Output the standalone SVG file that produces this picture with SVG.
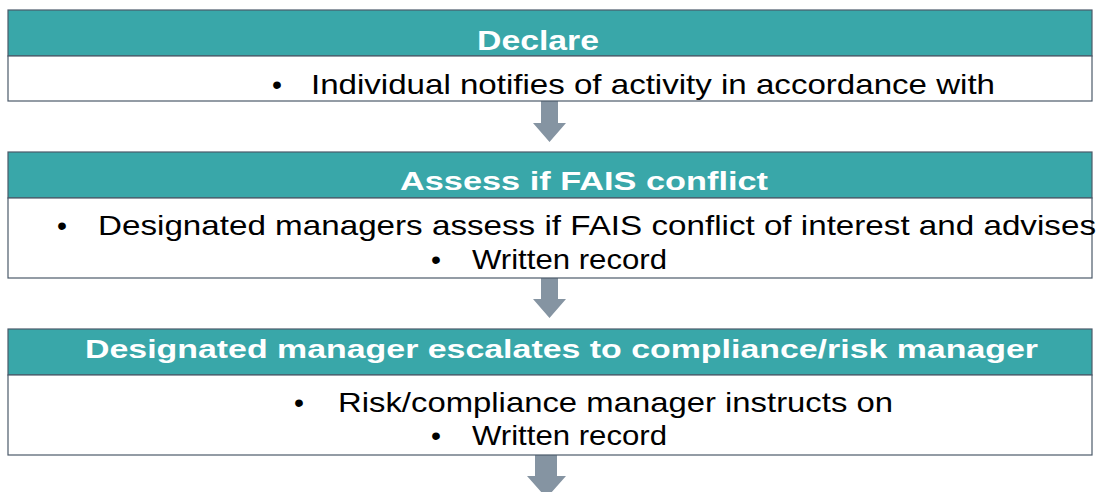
<svg xmlns="http://www.w3.org/2000/svg" width="1100" height="492" viewBox="0 0 1100 492">
<style>
.hdr{fill:#39a7a9;stroke:#4b5a6a;stroke-width:1.2}
.body{fill:#ffffff;stroke:#4b5a6a;stroke-width:1.2}
.ht{font-family:"Liberation Sans",Arial,sans-serif;font-weight:bold;fill:#ffffff}
.bt{font-family:"Liberation Sans",Arial,sans-serif;font-size:28.5px;fill:#000000}
.arrow{fill:#8594a2}
</style>
<rect width="1100" height="492" fill="#ffffff"/>
<g id="connectors">
<path class="arrow" d="M541,101 H558 V123 H566 L549.5,142 L533,123 H541 Z"/>
<path class="arrow" d="M541,278 H558 V299 H566 L549.5,318 L533,299 H541 Z"/>
<path class="arrow" d="M535,455 H557 V476 H566 L546.5,498 L527,476 H535 Z"/>
</g>
<g id="declare">
<rect class="hdr" x="8" y="10" width="1084" height="46"/>
<rect class="body" x="8" y="56" width="1084" height="45"/>
<text class="ht" x="477" y="49.5" font-size="27" textLength="122" lengthAdjust="spacingAndGlyphs">Declare</text>
<text class="bt" x="277" y="94" text-anchor="middle">•</text>
<text class="bt" x="311" y="94" textLength="684" lengthAdjust="spacingAndGlyphs">Individual notifies of activity in accordance with</text>
</g>
<g id="assess">
<rect class="hdr" x="8" y="152" width="1084" height="46"/>
<rect class="body" x="8" y="198" width="1084" height="80"/>
<text class="ht" x="400" y="189.5" font-size="26" textLength="368" lengthAdjust="spacingAndGlyphs">Assess if FAIS conflict</text>
<text class="bt" x="62" y="235" text-anchor="middle">•</text>
<text class="bt" x="98" y="235" textLength="998" lengthAdjust="spacingAndGlyphs">Designated managers assess if FAIS conflict of interest and advises</text>
<text class="bt" x="436" y="269" text-anchor="middle">•</text>
<text class="bt" x="472" y="269" textLength="195" lengthAdjust="spacingAndGlyphs">Written record</text>
</g>
<g id="escalate">
<rect class="hdr" x="8" y="329" width="1084" height="46"/>
<rect class="body" x="8" y="375" width="1084" height="80"/>
<text class="ht" x="85" y="357.5" font-size="25.5" textLength="953" lengthAdjust="spacingAndGlyphs">Designated manager escalates to compliance/risk manager</text>
<text class="bt" x="299" y="412" text-anchor="middle">•</text>
<text class="bt" x="338" y="412" textLength="555" lengthAdjust="spacingAndGlyphs">Risk/compliance manager instructs on</text>
<text class="bt" x="436" y="445" text-anchor="middle">•</text>
<text class="bt" x="472" y="445" textLength="195" lengthAdjust="spacingAndGlyphs">Written record</text>
</g>
</svg>
